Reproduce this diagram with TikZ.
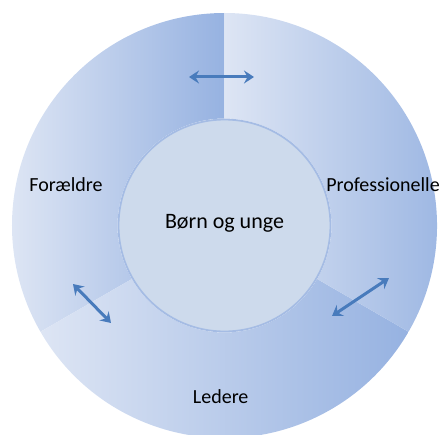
\documentclass[tikz,border=0pt]{standalone}
\usepackage{fontspec}
\setmainfont{Carlito}
\usetikzlibrary{arrows.meta}

\definecolor{segLight}{RGB}{221,229,244}
\definecolor{segDark}{RGB}{150,178,225}
\definecolor{hubFill}{RGB}{205,218,236}
\definecolor{hubLine}{RGB}{165,188,228}
\definecolor{arrowBlue}{RGB}{72,123,188}

\tikzset{
  segment/.style={left color=segLight, right color=segDark, draw=none},
  hub/.style={circle, fill=hubFill, draw=hubLine, line width=1.8pt, minimum size=212pt, inner sep=0pt},
  lbl/.style={font=\fontsize{20}{24}\selectfont, inner sep=0pt, anchor=base},
  link/.style={{Stealth[length=10pt,width=13pt,inset=3.5pt]}-{Stealth[length=10pt,width=13pt,inset=3.5pt]}, line width=3pt, arrowBlue}
}

\begin{document}
\begin{tikzpicture}
    \useasboundingbox (-224.5pt,-208.5pt) rectangle (217.5pt,225.5pt);
    % three ring segments
    \foreach \a in {90,210,330}
      \shade[segment] (\a:212.5pt) arc[start angle=\a, delta angle=120, radius=212.5pt]
        -- ({\a+120}:107pt) arc[start angle={\a+120}, delta angle=-120, radius=107pt] -- cycle;
    \node[hub] (hub) at (0,0) {};
    \node[lbl, font=\fontsize{22}{26}\selectfont] (kids) at (0,-2.8pt) {Børn og unge};
    \node[lbl] (parents) at (-158.5pt,33.8pt) {Forældre};
    \node[lbl] (pros) at (158.5pt,33.8pt) {Professionelle};
    \node[lbl] (leaders) at (-3.8pt,-177.8pt) {Ledere};
    % arrow ends
    \coordinate (t1) at (-35.5pt,148.5pt);
    \coordinate (t2) at (29.5pt,148.5pt);
    \coordinate (r1) at (107.5pt,-90.5pt);
    \coordinate (r2) at (164.5pt,-52.5pt);
    \coordinate (l1) at (-151.5pt,-58.5pt);
    \coordinate (l2) at (-113.5pt,-97.5pt);
    \draw[link] (t1) -- (t2);
    \draw[link] (r1) -- (r2);
    \draw[link] (l1) -- (l2);
\end{tikzpicture}
\end{document}
